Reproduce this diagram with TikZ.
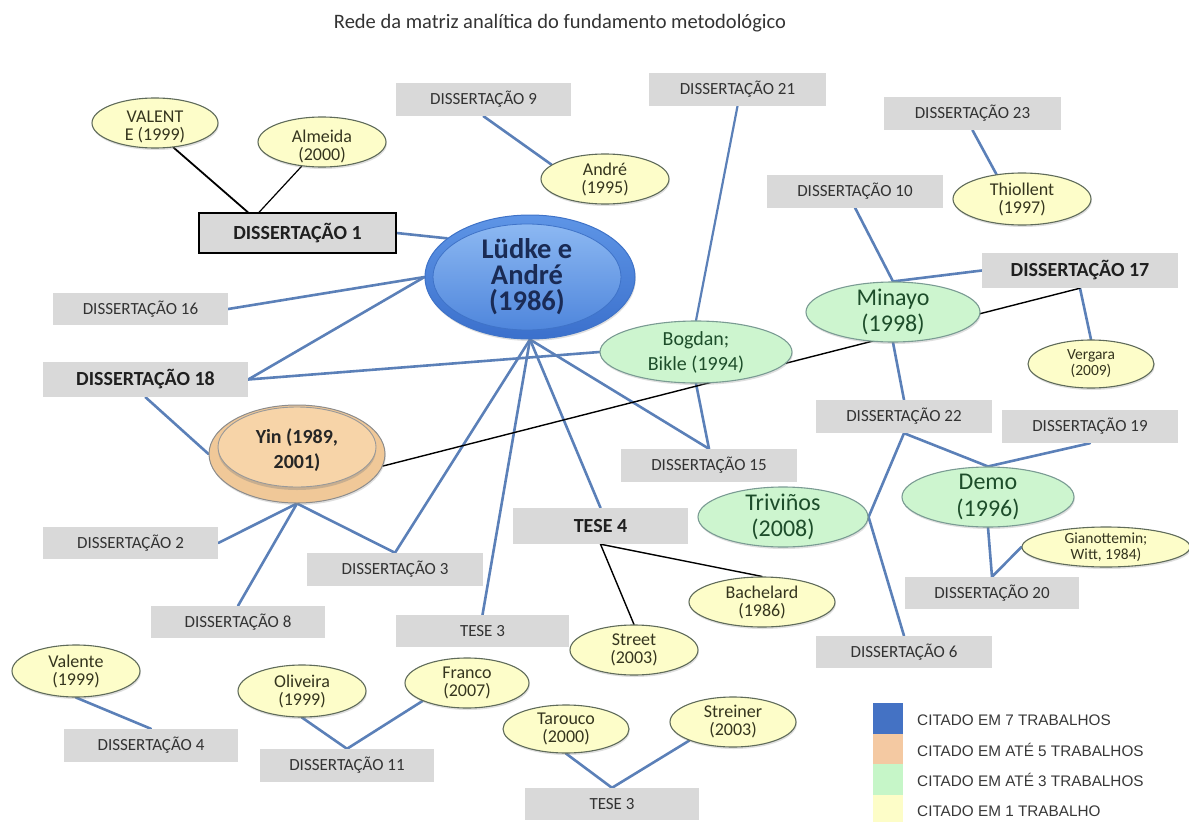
\documentclass[tikz,border=0pt]{standalone}
\usepackage{fontspec}
\setmainfont{Carlito}
\newfontfamily\legfont{Liberation Sans}
\usetikzlibrary{shapes.geometric,shadows}
\definecolor{boxgray}{HTML}{D9D9D9}
\definecolor{boxtext}{HTML}{333333}
\definecolor{linkblue}{HTML}{5B80B8}
\definecolor{yelfill}{HTML}{FDFDC9}
\definecolor{yelborder}{HTML}{5F6B5A}
\definecolor{yeltext}{HTML}{35351E}
\definecolor{grnfill}{HTML}{CDF5CF}
\definecolor{grnborder}{HTML}{7A9B93}
\definecolor{grntext}{HTML}{1D4D2A}
\definecolor{ludA}{HTML}{5E95E6}
\definecolor{ludB}{HTML}{3B70CC}
\definecolor{ludC}{HTML}{8CB8F2}
\definecolor{ludD}{HTML}{4F86DC}
\definecolor{ludE}{HTML}{3F73C8}
\definecolor{ludtext}{HTML}{1A2B55}
\definecolor{yinA}{HTML}{F0C898}
\definecolor{yinB}{HTML}{F7D4A8}
\definecolor{leg1}{HTML}{4472C4}
\definecolor{leg2}{HTML}{F4C9A2}
\definecolor{leg3}{HTML}{C6F6C8}
\definecolor{leg4}{HTML}{FDFDC8}
\pgfdeclarelayer{bg}
\pgfsetlayers{bg,main}
\begin{document}
\begin{tikzpicture}[x=1pt,y=-1pt,
  gbox/.style={rectangle, fill=boxgray, inner sep=0pt, minimum width=176pt, minimum height=33pt, font=\fontsize{17}{19}\selectfont, text=boxtext},
  bbox/.style={gbox, minimum height=35pt, font=\fontsize{20}{22}\selectfont\bfseries, text=black!88},
  shad/.style={drop shadow={opacity=0.25, shadow xshift=0.8pt, shadow yshift=-2pt}},
  yel/.style={ellipse, draw=yelborder, line width=1.1pt, fill=yelfill, inner sep=0pt, shad},
  ytxt/.style={align=center, inner sep=0pt, font=\fontsize{18}{18}\selectfont, text=yeltext},
  ysmall/.style={align=center, inner sep=0pt, font=\fontsize{15.5}{16}\selectfont, text=yeltext},
  grn/.style={ellipse, draw=grnborder, line width=1.1pt, fill=grnfill, inner sep=0pt, shad},
  gtxt/.style={align=center, inner sep=0pt, font=\fontsize{24}{26.5}\selectfont, text=grntext},
  bline/.style={draw=linkblue, line width=2.6pt, line cap=round, line join=round},
  kline/.style={draw=black, line width=1.4pt, line cap=round},
  legsq/.style={rectangle, inner sep=0pt, minimum width=30pt, minimum height=30.5pt},
  legtxt/.style={anchor=west, inner sep=0pt, font=\legfont\fontsize{15.3}{17}\selectfont, text=black!78}
]
\useasboundingbox (0,0) rectangle (1189,822);

% title
\node[font=\fontsize{20.5}{22}\selectfont, text=black!80] (title) at (560,23) {Rede da matriz analítica do fundamento metodológico};

% boxes
\node[bbox, draw=black, line width=1.3pt, minimum width=197pt, minimum height=40pt] (d1) at (297.5,233) {DISSERTAÇÃO 1};
\node[gbox, minimum width=175pt, minimum height=32pt] (d16) at (140.5,309) {DISSERTAÇÃO 16};
\node[bbox, minimum width=205pt] (d18) at (145.5,379.5) {DISSERTAÇÃO 18};
\node[gbox, minimum width=175pt] (d9) at (483.5,99.5) {DISSERTAÇÃO 9};
\node[gbox, minimum width=177pt] (d21) at (737.5,89.5) {DISSERTAÇÃO 21};
\node[gbox, minimum width=177pt] (d23) at (972.5,113.5) {DISSERTAÇÃO 23};
\node[gbox] (d10) at (855,191) {DISSERTAÇÃO 10};
\node[bbox, minimum width=196pt] (d17) at (1080,270.5) {DISSERTAÇÃO 17};
\node[gbox] (d22) at (904,416.5) {DISSERTAÇÃO 22};
\node[gbox] (d19) at (1090,426.5) {DISSERTAÇÃO 19};
\node[gbox] (d15) at (709,465.5) {DISSERTAÇÃO 15};
\node[bbox, minimum width=175pt, minimum height=36pt] (t4) at (600.5,526) {TESE 4};
\node[gbox, minimum width=174pt, minimum height=32pt] (d20) at (992,593) {DISSERTAÇÃO 20};
\node[gbox, minimum height=32pt] (d6) at (904,652) {DISSERTAÇÃO 6};
\node[gbox, minimum width=175pt, minimum height=32pt] (d2) at (130.5,543) {DISSERTAÇÃO 2};
\node[gbox] (d3) at (395,569.5) {DISSERTAÇÃO 3};
\node[gbox, minimum width=174pt, minimum height=32pt] (d8) at (238,622) {DISSERTAÇÃO 8};
\node[gbox, minimum width=173pt, minimum height=32pt] (t3m) at (482.5,631) {TESE 3};
\node[gbox, minimum width=174pt] (d4) at (151,745.5) {DISSERTAÇÃO 4};
\node[gbox, minimum width=174pt] (d11) at (347,765.5) {DISSERTAÇÃO 11};
\node[gbox, minimum width=174pt, minimum height=32pt] (t3b) at (612,804) {TESE 3};

% central ellipse
\node[ellipse, minimum width=210pt, minimum height=124pt, inner sep=0pt, top color=ludA, bottom color=ludB, draw=ludE, line width=1pt, shad] (ludke) at (530,277) {};
\node[ellipse, minimum width=188pt, minimum height=106pt, inner sep=0pt, top color=ludC, bottom color=ludD, draw=ludE, line width=0.8pt,
  label={[align=center, inner sep=0pt, font=\fontsize{28.5}{26}\selectfont\bfseries, text=ludtext]center:{Lüdke e\\André\\(1986)}}] (ludkein) at (527,277) {};

% Yin
\node[ellipse, minimum width=176pt, minimum height=98pt, inner sep=0pt, fill=yinA, draw=black!45, line width=1pt, shad] (yin) at (297,454) {};
\node[ellipse, minimum width=158pt, minimum height=80pt, inner sep=0pt, fill=yinB, draw=black!40, line width=0.9pt,
  drop shadow={opacity=0.35, shadow xshift=0pt, shadow yshift=-3pt},
  label={[align=center, inner sep=0pt, yshift=-3pt, font=\fontsize{20}{25}\selectfont\bfseries, text=black!85]center:{Yin (1989,\\2001)}}] (yinin) at (297,447) {};

% green ellipses
\node[grn, minimum width=192pt, minimum height=62pt, label={[gtxt, font=\fontsize{20}{25}\selectfont]center:{Bogdan;\\Bikle (1994)}}] (bogdan) at (696,352) {};
\node[grn, minimum width=174pt, minimum height=60pt, label={[gtxt]center:{Minayo\\(1998)}}] (minayo) at (893,312) {};
\node[grn, minimum width=170pt, minimum height=60pt, label={[gtxt]center:{Triviños\\(2008)}}] (trivinos) at (783,517) {};
\node[grn, minimum width=172pt, minimum height=60pt, label={[gtxt]center:{Demo\\(1996)}}] (demo) at (988,497) {};

% yellow ellipses
\node[yel, minimum width=126pt, minimum height=50pt, label={[ytxt, yshift=-4pt]center:{VALENT\\E (1999)}}] (valente1) at (155,123) {};
\node[yel, minimum width=128pt, minimum height=50pt, label={[ytxt, yshift=-4pt]center:{Almeida\\(2000)}}] (almeida) at (322,142) {};
\node[yel, minimum width=128pt, minimum height=50pt, label={[ytxt]center:{André\\(1995)}}] (andre) at (605,179) {};
\node[yel, minimum width=138pt, minimum height=52pt, label={[ytxt]center:{Thiollent\\(1997)}}] (thiollent) at (1022,199) {};
\node[yel, minimum width=126pt, minimum height=48pt, label={[ysmall]center:{Vergara\\(2009)}}] (vergara) at (1091,364) {};
\node[yel, minimum width=168pt, minimum height=40pt, label={[ysmall]center:{Gianottemin;\\Witt, 1984)}}] (gian) at (1106,547) {};
\node[yel, minimum width=146pt, minimum height=50pt, label={[ytxt]center:{Bachelard\\(1986)}}] (bachelard) at (762,602) {};
\node[yel, minimum width=128pt, minimum height=50pt, label={[ytxt]center:{Street\\(2003)}}] (street) at (634,650) {};
\node[yel, minimum width=128pt, minimum height=52pt, label={[ytxt]center:{Valente\\(1999)}}] (valente2) at (76,671) {};
\node[yel, minimum width=128pt, minimum height=52pt, label={[ytxt]center:{Oliveira\\(1999)}}] (oliveira) at (302,691) {};
\node[yel, minimum width=124pt, minimum height=50pt, label={[ytxt]center:{Franco\\(2007)}}] (franco) at (467,683) {};
\node[yel, minimum width=126pt, minimum height=48pt, label={[ytxt]center:{Tarouco\\(2000)}}] (tarouco) at (566,729) {};
\node[yel, minimum width=126pt, minimum height=50pt, label={[ytxt]center:{Streiner\\(2003)}}] (streiner) at (733,722) {};

% legend
\node[legsq, fill=leg1] (sq1) at (888,718.5) {};
\node[legsq, fill=leg2] (sq2) at (888,749) {};
\node[legsq, fill=leg3] (sq3) at (888,779.5) {};
\node[legsq, fill=leg4] (sq4) at (888,810) {};
\node[legtxt] (lt1) at (917,720) {CITADO EM 7 TRABALHOS};
\node[legtxt] (lt2) at (917,750) {CITADO EM ATÉ 5 TRABALHOS};
\node[legtxt] (lt3) at (917,780) {CITADO EM ATÉ 3 TRABALHOS};
\node[legtxt] (lt4) at (917,811) {CITADO EM 1 TRABALHO};

% connectors
\begin{pgfonlayer}{bg}
\draw[kline, line width=1.8pt] (valente1.-53) -- ([xshift=-49.5pt]d1.north);
\draw[kline, line width=1.2pt] (almeida.-130) -- ([xshift=-38.5pt]d1.north);
\draw[bline] (d1.east) -- (ludke.155);
\draw[bline] (ludke.west) -- (d16.east);
\draw[bline] (ludke.west) -- (d18.east);
\draw[bline] (d18.east) -- (bogdan.west);
\draw[bline] (ludke.south) -- (d3.north);
\draw[bline] (ludke.south) -- (t3m.north);
\draw[bline] (ludke.south) -- (t4.north);
\draw[bline] (ludke.south) -- (d15.north);
\draw[bline] (d9.south) -- (andre.165);
\draw[bline, line width=2.2pt] (d21.south) -- (bogdan.north);
\draw[bline] (bogdan.south) -- (d15.north);
\draw[bline] (d23.south) -- (thiollent.136);
\draw[bline] (d10.south) -- (minayo.north) -- (d17.west);
\draw[bline] (minayo.south) -- (d22.north);
\draw[bline] (trivinos.east) -- (d22.south) -- (demo.north) -- (d19.south);
\draw[bline] (trivinos.east) -- (d6.north);
\draw[bline] (demo.south) -- (d20.north) -- (gian.west);
\draw[bline] (d17.south) -- (vergara.north);
\draw[kline] (yin.-8) -- (d17.south);
\draw[bline] (d18.south) -- (yin.west);
\draw[bline] (yin.south) -- (d2.east);
\draw[bline] (yin.south) -- (d8.north);
\draw[bline] (yin.south) -- (d3.north);
\draw[kline] (t4.south) -- (street.north);
\draw[kline] (t4.south) -- (bachelard.north);
\draw[bline] (valente2.south) -- (d4.north);
\draw[bline] (oliveira.south) -- (d11.north) -- (franco.-158);
\draw[bline] (tarouco.south) -- (t3b.north) -- (streiner.-157);
\end{pgfonlayer}
\end{tikzpicture}
\end{document}
